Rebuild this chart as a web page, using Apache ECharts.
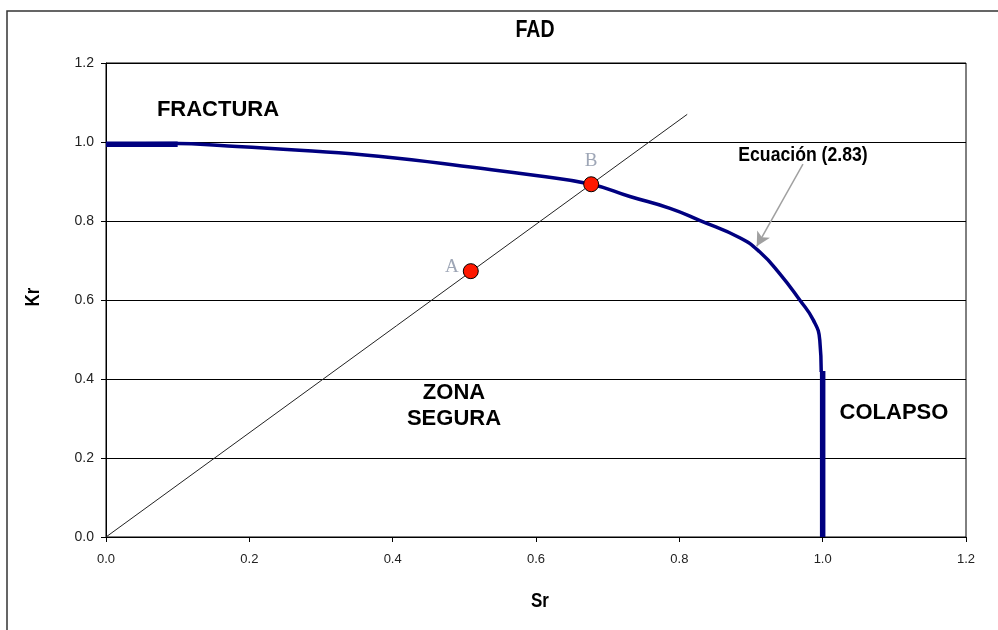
<!DOCTYPE html>
<html>
<head>
<meta charset="utf-8">
<script src="https://cdn.jsdelivr.net/npm/echarts@6/dist/echarts.min.js"></script>
<style>
html,body{margin:0;padding:0;background:#fff;}
#c{width:998px;height:630px;}
</style>
</head>
<body>
<div id="c"></div>
<script>
// ---- data ----
const axisTicks = [0, 0.2, 0.4, 0.6, 0.8, 1.0, 1.2];
// FAD curve (Ecuación 2.83)
const curveSr = [0, 0.10, 0.16, 0.27, 0.38, 0.52, 0.60, 0.677, 0.731, 0.787, 0.829, 0.885, 0.912, 0.940, 0.968, 0.987, 0.996, 0.998];
const curveKr = [0.994, 0.996, 0.991, 0.979, 0.964, 0.934, 0.915, 0.893, 0.862, 0.832, 0.801, 0.757, 0.722, 0.667, 0.600, 0.549, 0.498, 0.418];
// thick segment along Kr = 1 near the origin
const capSr = [0, 0.10];
const capKr = [0.994, 0.994];
// collapse limit (thick vertical)
const colSr = [1.0, 1.0];
const colKr = [0.42, 0];
// loading line
const loadSr = [0, 0.811];
const loadKr = [0, 1.07];
// assessment points
const ptNames = ['A', 'B'];
const ptSr = [0.509, 0.677];
const ptKr = [0.673, 0.893];
// arrow for "Ecuación (2.83)"
const arrowFrom = [0.9725, 0.944];
const arrowTo = [0.908, 0.736];

const zip = (a, b) => a.map((v, i) => [v, b[i]]);
const chart = echarts.init(document.getElementById('c'), null, {renderer: 'canvas'});

const tickFont = {fontFamily: 'Liberation Sans, Arial, sans-serif', fontSize: 13, color: '#222'};
const bigFont = 'bold 22px "Liberation Sans", Arial, sans-serif';
const narrowBold = (s) => 'bold ' + s + 'px "Liberation Sans", Arial, sans-serif';

const option = {
  animation: false,
  backgroundColor: '#fff',
  grid: {left: 106, right: 32, top: 63, bottom: 93, show: true, borderColor: '#000', borderWidth: 1},
  xAxis: {
    type: 'value', min: 0, max: 1.2, interval: 0.2,
    axisLine: {show: true, onZero: false, lineStyle: {color: '#000', width: 1}},
    axisTick: {show: true, inside: false, length: 5, lineStyle: {color: '#000'}},
    axisLabel: Object.assign({margin: 16, formatter: v => v.toFixed(1)}, tickFont),
    splitLine: {show: false}
  },
  yAxis: {
    type: 'value', min: 0, max: 1.2, interval: 0.2,
    axisLine: {show: true, onZero: false, lineStyle: {color: '#000', width: 1}},
    axisTick: {show: true, inside: false, length: 5, lineStyle: {color: '#000'}},
    axisLabel: Object.assign({margin: 12, formatter: v => v.toFixed(1)}, tickFont, {fontSize: 14}),
    splitLine: {show: true, lineStyle: {color: '#000', width: 1}}
  },
  series: [
    {
      type: 'line', data: zip(loadSr, loadKr), symbol: 'none',
      lineStyle: {color: '#222', width: 1}, z: 2,
      markLine: {
        silent: true, symbol: ['none', 'arrow'], symbolSize: [11, 14],
        label: {show: false},
        lineStyle: {color: '#a0a0a0', width: 1.5, type: 'solid'},
        data: [[{coord: arrowFrom}, {coord: arrowTo}]]
      }
    },
    {
      type: 'line', data: zip(curveSr, curveKr), symbol: 'none', smooth: 0.5,
      lineStyle: {color: '#000080', width: 3.5}, z: 3
    },
    {
      type: 'line', data: zip(capSr, capKr), symbol: 'none',
      lineStyle: {color: '#000080', width: 5.5}, z: 3
    },
    {
      type: 'line', data: zip(colSr, colKr), symbol: 'none',
      lineStyle: {color: '#000080', width: 5.5, cap: 'butt'}, z: 3
    },
    {
      type: 'scatter', symbol: 'circle', symbolSize: 15, z: 5,
      itemStyle: {color: '#ff1800', borderColor: '#000', borderWidth: 1, opacity: 1},
      data: ptNames.map((n, i) => ({
        name: n, value: [ptSr[i], ptKr[i]],
        label: {
          show: true, formatter: n,
          position: i === 0 ? 'left' : 'top',
          distance: i === 0 ? 4 : 6,
          offset: i === 0 ? [0, -4] : [0, 0],
          fontFamily: 'Liberation Serif, DejaVu Serif, serif', fontSize: 19,
          color: '#9ea6b6'
        }
      }))
    }
  ],
  graphic: [
    {type: 'rect', shape: {x: 7, y: 11, width: 1000, height: 700}, style: {fill: 'none', stroke: '#333', lineWidth: 1.5}, z: 0, silent: true},
    {type: 'text', x: 535, y: 31, scaleX: 0.85, style: {text: 'FAD', font: narrowBold(23), fill: '#000', textAlign: 'center', textVerticalAlign: 'middle'}},
    {type: 'text', x: 540, y: 601, scaleX: 0.85, style: {text: 'Sr', font: narrowBold(20), fill: '#000', textAlign: 'center', textVerticalAlign: 'middle'}},
    {type: 'text', x: 33, y: 297, rotation: Math.PI / 2, scaleX: 0.85, style: {text: 'Kr', font: narrowBold(20), fill: '#000', textAlign: 'center', textVerticalAlign: 'middle'}},
    {type: 'text', x: 218, y: 110, style: {text: 'FRACTURA', font: bigFont, fill: '#000', textAlign: 'center', textVerticalAlign: 'middle'}},
    {type: 'text', x: 454, y: 406, style: {text: 'ZONA\nSEGURA', font: bigFont, lineHeight: 26, fill: '#000', textAlign: 'center', textVerticalAlign: 'middle'}},
    {type: 'text', x: 894, y: 413, style: {text: 'COLAPSO', font: bigFont, fill: '#000', textAlign: 'center', textVerticalAlign: 'middle'}},
    {type: 'text', x: 803, y: 155, scaleX: 0.84, style: {text: 'Ecuación (2.83)', font: narrowBold(21), fill: '#000', textAlign: 'center', textVerticalAlign: 'middle'}}
  ]
};
chart.setOption(option);
</script>
</body>
</html>
